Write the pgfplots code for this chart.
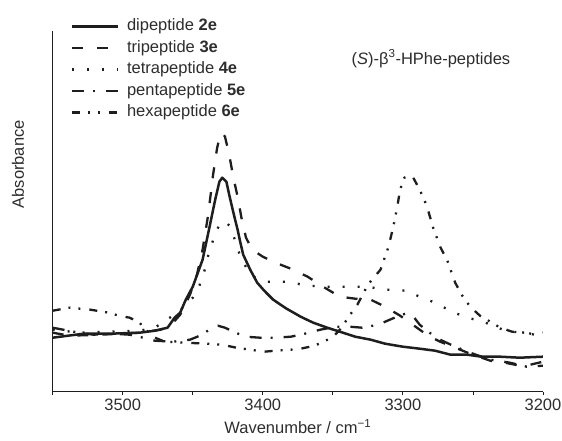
\documentclass[border=0pt]{standalone}
\usepackage{fontspec}
\setmainfont{Liberation Sans}
\usepackage{pgfplots}
\pgfplotsset{compat=1.18}
\definecolor{ink}{RGB}{30,30,30}
\definecolor{txt}{RGB}{45,45,45}
\newcommand\cf{\fontsize{16.5bp}{19.8bp}\selectfont}
\begin{document}
\begin{tikzpicture}
\useasboundingbox (-52.7bp,-49.3bp) rectangle (509.3bp,391.7bp);
\begin{axis}[
  at={(0,0)}, anchor=south west,
  scale only axis, width=490.3bp, height=361bp,
  xmin=3200, xmax=3550, ymin=0, ymax=361,
  x dir=reverse,
  axis x line=bottom, axis y line=left,
  axis line style={-, line width=0.9bp, ink},
  xtick={3200,3300,3400,3500}, xticklabels={3200,3300,3400,3500},
  minor xtick={3250,3350,3450,3550},
  ytick=\empty,
  tick align=outside, major tick length=3.5bp, minor tick length=3.5bp,
  every tick/.style={line width=0.9bp, ink},
  /pgf/number format/assume math mode=true,
  tick label style={font=\cf, text=txt},
  xlabel={Wavenumber / cm\textsuperscript{−1}},
  xlabel style={font=\cf, text=txt, at={(axis description cs:0.5,-0.097)}, anchor=center},
  ylabel={Absorbance},
  ylabel style={font=\cf, text=txt, at={(axis description cs:-0.0708,0.63)}, anchor=center},
  every axis plot/.append style={line width=2.3bp, color=ink, line join=round},
  legend style={at={(axis description cs:0.036,1.037)}, anchor=north west, draw=none, fill=none,
    font=\cf, text=txt, inner xsep=0pt, inner ysep=0pt, row sep=3.5bp,
    nodes={inner xsep=3bp, inner ysep=1bp, text height=12bp, text depth=4bp},
    /tikz/every odd column/.append style={column sep=5bp}},
  legend cell align=left,
  legend image code/.code={\draw[#1] (0bp,0bp) -- (46bp,0bp);},
]
% dipeptide 2e
\addplot[solid, line width=2.5bp] coordinates {
(3550,54) (3528,58) (3509,58) (3488,59) (3477,61) (3468,64) (3463,74) (3459,79)
(3455,92) (3450,105) (3443,132) (3438,165) (3434,192) (3431,210) (3429,214)
(3426,210) (3424,197) (3421,179) (3418,162) (3416,149) (3414,137) (3409,122)
(3404,109) (3399,101) (3392.6,92) (3383,83) (3373,75) (3364,69) (3354,64)
(3345,60) (3334,55) (3323,52) (3312.7,48) (3300,45) (3288,43) (3277,41)
(3266,37) (3254,37) (3244,35) (3230.5,35) (3216.6,34) (3200,35)};
\addlegendentry{dipeptide \textbf{2e}}
% tripeptide 3e
\addplot[dash pattern=on 11bp off 14bp] coordinates {
(3550,59) (3538,56) (3516,57) (3488,59) (3473,62) (3466,66) (3459,77) (3452,97)
(3447,117) (3443,142) (3439,177) (3435.5,217) (3432.6,244) (3430.5,256) (3429,259)
(3427,255) (3424,237) (3421,214) (3418,195) (3415,172) (3412,154) (3407.6,142)
(3400,135) (3391,129) (3380,123) (3368,115) (3357,105) (3345,95) (3334,93)
(3323,92) (3312.7,85) (3302,76) (3291,65) (3282,56) (3273.4,50) (3262.7,44)
(3252,38) (3237.6,31) (3227,29) (3216.6,26) (3209,27) (3200,30)};
\addlegendentry{tripeptide \textbf{3e}}
% tetrapeptide 4e
\addplot[dash pattern=on 2bp off 13bp] coordinates {
(3550,62) (3530,59) (3509,60) (3488,61) (3477,64) (3471,70) (3463,77) (3455.5,86)
(3450,94) (3445,107) (3441,124) (3438,142) (3434,157) (3430.5,169) (3427,170)
(3423,165) (3420,152) (3416,135) (3411,122) (3407,115) (3397,110) (3382.6,110)
(3368,106) (3354,105) (3343,105) (3332,105) (3321,104) (3310.5,102) (3298,101)
(3288,95) (3277,89) (3265,80) (3254,74) (3242.6,70) (3232.6,64) (3223.6,60)
(3211,59) (3204.5,56) (3200,59)};
\addlegendentry{tetrapeptide \textbf{4e}}
% pentapeptide 5e
\addplot[dash pattern=on 12bp off 9bp on 2bp off 11bp] coordinates {
(3550,64) (3535,60) (3521,57) (3507,58) (3495,57) (3485.5,54) (3477,51) (3464,50)
(3452,52) (3445,56) (3438,62) (3432,66) (3427,64) (3421,60) (3412.5,55) (3402,54)
(3391,54) (3380,55) (3370,58) (3359,62) (3348,65) (3338,65) (3329,64) (3317.6,67)
(3307.7,73) (3298.4,78) (3293,76) (3288,67) (3281,59) (3273.4,52) (3262.7,45)
(3252,39) (3237.6,32) (3223.6,29) (3211.6,25) (3200,26)};
\addlegendentry{pentapeptide \textbf{5e}}
% hexapeptide 6e
\addplot[dash pattern=on 8bp off 8bp on 2bp off 8bp on 2bp off 9bp] coordinates {
(3550,81) (3538,84) (3523,82) (3510,79) (3503,76) (3495,74) (3488,69) (3483,61)
(3477,54) (3470,50) (3455,49) (3440,48) (3429,47) (3419,44) (3409,42) (3399,40)
(3391,41) (3380,42) (3373,43) (3363,46) (3357,50) (3350.5,54) (3345,62) (3341,70)
(3337.7,77) (3332.5,87) (3325,107) (3316,122) (3310.5,144) (3307,164) (3304,185)
(3302,202) (3299,214) (3295.5,216) (3293,215) (3288,202) (3283,186) (3278.4,164)
(3273.4,145) (3268,130) (3262.7,109) (3257.6,96) (3252,85) (3245,76) (3237.6,70)
(3230.5,64) (3222,60) (3213,59) (3206,57) (3200,59)};
\addlegendentry{hexapeptide \textbf{6e}}
\node[font=\cf, text=txt, anchor=center] at (axis cs:3280,333) {(\textit{S})-β\textsuperscript{3}-HPhe-peptides};
\end{axis}
\end{tikzpicture}
\end{document}
